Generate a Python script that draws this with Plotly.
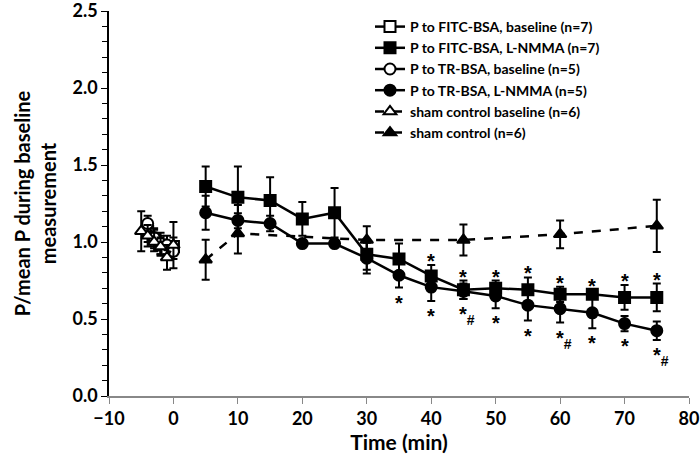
import plotly.graph_objects as go

# ---- data ----
t_base_sq = [-4, -3, -2, -1, 0]
fitc_base = [1.07, 1.02, 0.98, 0.95, 0.97]
fitc_base_err = [0.07, 0.06, 0.06, 0.05, 0.06]

t_base_ci = [-4, -3, -2, -1, 0]
tr_base = [1.12, 1.03, 0.99, 0.98, 0.94]
tr_base_err = [0.05, 0.06, 0.07, 0.06, 0.05]

t_sham_base = [-5, -4, -3, -2, -1, 0]
sham_base = [1.07, 1.04, 1.00, 0.97, 0.90, 0.98]
sham_base_err = [0.13, 0.07, 0.06, 0.06, 0.08, 0.15]

t_main = [5, 10, 15, 20, 25, 30, 35, 40, 45, 50, 55, 60, 65, 70, 75]
fitc_lnmma = [1.36, 1.29, 1.27, 1.15, 1.19, 0.92, 0.89, 0.78, 0.69, 0.70, 0.69, 0.66, 0.66, 0.64, 0.64]
fitc_lnmma_err = [0.13, 0.20, 0.15, 0.11, 0.16, 0.10, 0.10, 0.07, 0.06, 0.05, 0.08, 0.05, 0.03, 0.08, 0.09]
tr_lnmma = [1.19, 1.14, 1.12, 0.99, 0.99, 0.895, 0.784, 0.707, 0.68, 0.65, 0.59, 0.567, 0.54, 0.47, 0.424]
tr_lnmma_err = [0.11, 0.10, 0.05, 0.02, 0.02, 0.10, 0.08, 0.09, 0.05, 0.08, 0.10, 0.09, 0.10, 0.05, 0.06]

t_sham = [5, 10, 30, 45, 60, 75]
sham = [0.885, 1.056, 1.013, 1.013, 1.05, 1.105]
sham_err = [0.13, 0.13, 0.09, 0.10, 0.09, 0.17]

stars_above_fitc = [40, 45, 50, 55, 60, 65, 70, 75]
stars_below_tr = [35, 40, 45, 50, 55, 60, 65, 70, 75]
hash_below_tr = [45, 60, 75]

FONT = "Lato"
STAR_FONT = dict(size=20, family="Liberation Sans", color="#000000", weight="bold")

fig = go.Figure()

def add(name, x, y, e, symbol, fill, dash):
    fig.add_trace(go.Scatter(
        x=x, y=y, name=name, mode="lines+markers",
        line=dict(color="black", width=2.5, dash=dash),
        marker=dict(symbol=symbol, size=11, color=fill, line=dict(color="black", width=2)),
        error_y=dict(type="data", array=e, visible=True, color="black", thickness=2, width=4),
    ))

add("P to FITC-BSA, baseline (n=7)", t_base_sq, fitc_base, fitc_base_err, "square", "white", "solid")
add("P to FITC-BSA, L-NMMA (n=7)", t_main, fitc_lnmma, fitc_lnmma_err, "square", "black", "solid")
add("P to TR-BSA, baseline (n=5)", t_base_ci, tr_base, tr_base_err, "circle", "white", "solid")
add("P to TR-BSA, L-NMMA (n=5)", t_main, tr_lnmma, tr_lnmma_err, "circle", "black", "solid")
add("sham control baseline (n=6)", t_sham_base, sham_base, sham_base_err, "triangle-up", "white", "dash")
add("sham control (n=6)", t_sham, sham, sham_err, "triangle-up", "black", "dash")

annotations = []
for t in stars_above_fitc:
    i = t_main.index(t)
    annotations.append(dict(x=t, y=fitc_lnmma[i] + fitc_lnmma_err[i], text="*", showarrow=False,
                            yanchor="bottom", yshift=-9, font=STAR_FONT))
for t in stars_below_tr:
    i = t_main.index(t)
    txt = "*<sub>#</sub>" if t in hash_below_tr else "*"
    annotations.append(dict(x=t, y=tr_lnmma[i] - tr_lnmma_err[i], text=txt, showarrow=False,
                            yanchor="top", xanchor="left", xshift=-6, yshift=-2,
                            font=STAR_FONT))

fig.update_layout(
    width=700, height=459,
    margin=dict(l=109, r=11, t=11, b=63),
    paper_bgcolor="white", plot_bgcolor="white",
    font=dict(family=FONT, color="black", size=15),
    showlegend=True,
    legend=dict(x=0.45, y=1.0, xanchor="left", yanchor="top",
                bgcolor="rgba(0,0,0,0)", font=dict(size=14, family=FONT, weight="bold"),
                tracegroupgap=0, itemwidth=30),
    annotations=annotations,
    xaxis=dict(range=[-10, 80], dtick=10, tick0=0, showgrid=False, zeroline=False,
               showline=True, linecolor="#888888", linewidth=1.5, automargin=False,
               ticks="outside", tickcolor="#888888", ticklen=6, ticklabeloverflow="allow",
               tickfont=dict(size=18, family=FONT, weight="bold"),
               title=dict(text="Time (min)", font=dict(size=21, family=FONT, weight="bold"), standoff=2)),
    yaxis=dict(range=[0, 2.5], dtick=0.5, tickformat=".1f", showgrid=False, zeroline=False,
               showline=True, linecolor="black", linewidth=1.5, automargin=False,
               ticks="outside", tickcolor="black", ticklen=6, ticklabeloverflow="allow",
               minor=dict(dtick=0.1, ticks="outside", ticklen=5, tickcolor="black"),
               tickfont=dict(size=18, family=FONT, weight="bold"),
               title=dict(text="P/mean P during baseline<br>measurement",
                          font=dict(size=20, family=FONT, weight="bold"), standoff=10)),
)

fig.write_html("out.html", config={"displayModeBar": False},
               post_script="document.body.style.margin='0';document.body.style.padding='0';")
